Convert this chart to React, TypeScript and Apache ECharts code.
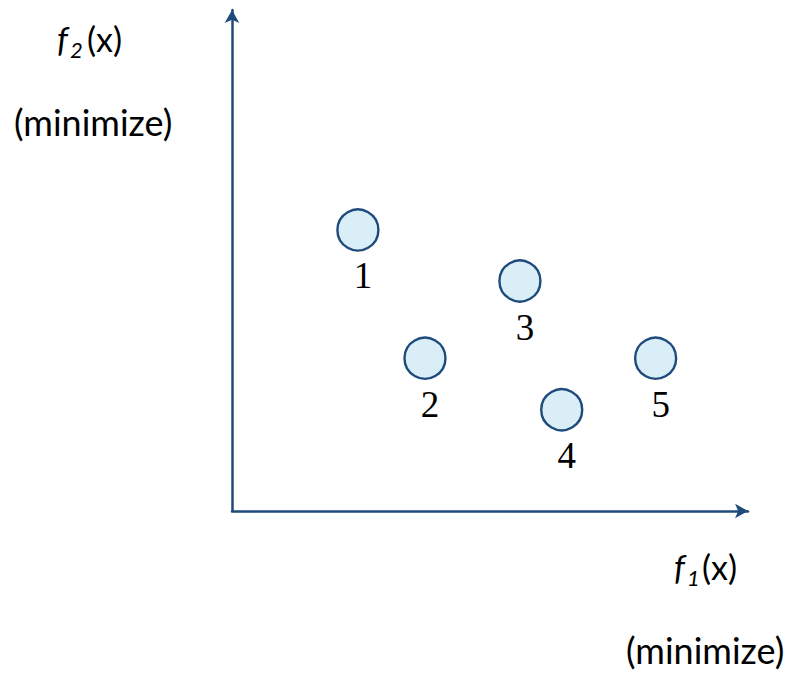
import React, { useEffect, useRef } from "react";
import * as echarts from "echarts";

const pointNames = ["1", "2", "3", "4", "5"];
const f1Values = [24.4, 37.4, 55.8, 63.9, 82.1];
const f2Values = [56.1, 30.5, 45.9, 20.2, 30.5];

const AXIS_COLOR = "#1F4A7C";

export default function App() {
  const ref = useRef<HTMLDivElement>(null);
  useEffect(() => {
    document.body.style.margin = "0";
    const chart = echarts.init(ref.current!, null, { renderer: "svg" });
    const sansFont = "Lato";
    const data = pointNames.map((n, i) => ({ name: n, value: [f1Values[i], f2Values[i]] }));
    chart.setOption({
      animation: false,
      backgroundColor: "#ffffff",
      grid: { left: 232, top: 10, width: 516, height: 501, containLabel: false },
      xAxis: {
        type: "value",
        min: 0,
        max: 100,
        axisLine: {
          show: true,
          lineStyle: { color: AXIS_COLOR, width: 2.5 },
          symbol: ["none", "arrow"],
          symbolSize: [11, 13],
        },
        axisTick: { show: false },
        axisLabel: { show: false },
        splitLine: { show: false },
      },
      yAxis: {
        type: "value",
        min: 0,
        max: 100,
        axisLine: {
          show: true,
          lineStyle: { color: AXIS_COLOR, width: 2.5 },
          symbol: ["none", "arrow"],
          symbolSize: [11, 13],
        },
        axisTick: { show: false },
        axisLabel: { show: false },
        splitLine: { show: false },
      },
      series: [
        {
          type: "scatter",
          data,
          symbol: "circle",
          symbolSize: 41,
          itemStyle: { color: "#DAEEF8", borderColor: "#1F4A7C", borderWidth: 2.4, opacity: 1 },
          label: {
            show: true,
            formatter: "{b}",
            position: "inside",
            offset: [5, 46],
            color: "#000000",
            fontFamily: "Liberation Serif",
            fontSize: 37,
          },
          emphasis: { disabled: true },
        },
      ],
      graphic: [
        { type: "text", left: 57, top: 21, style: { text: "f", font: `italic 34px ${sansFont}`, fill: "#000" } },
        { type: "text", left: 70, top: 38, style: { text: "2", font: `italic 22px ${sansFont}`, fill: "#000" } },
        { type: "text", left: 87, top: 21, style: { text: "(x)", font: `34px ${sansFont}`, fill: "#000" } },
        { type: "text", left: 14, top: 104, style: { text: "(minimize)", font: `36px ${sansFont}`, fill: "#000" } },
        { type: "text", left: 674, top: 549, style: { text: "f", font: `italic 34px ${sansFont}`, fill: "#000" } },
        { type: "text", left: 687, top: 566, style: { text: "1", font: `italic 22px ${sansFont}`, fill: "#000" } },
        { type: "text", left: 702, top: 549, style: { text: "(x)", font: `34px ${sansFont}`, fill: "#000" } },
        { type: "text", left: 626, top: 632, style: { text: "(minimize)", font: `36px ${sansFont}`, fill: "#000" } },
      ],
    });
    return () => chart.dispose();
  }, []);
  return <div ref={ref} style={{ position: "fixed", left: 0, top: 0, width: 792, height: 673 }} />;
}
